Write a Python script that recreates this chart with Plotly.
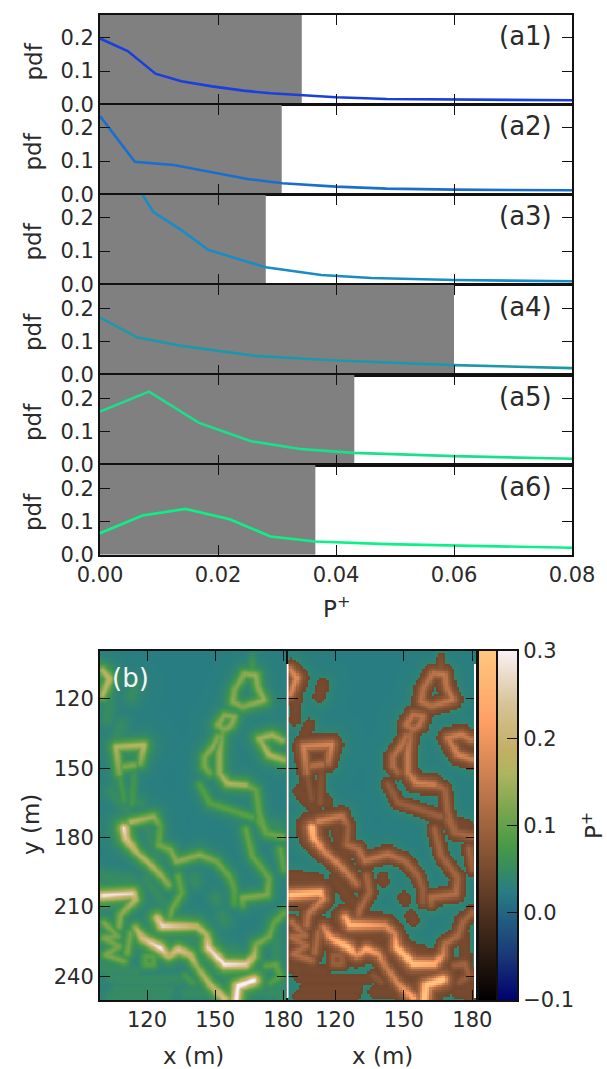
import numpy as np
import plotly.graph_objects as go

# ---------- panel (a) data ----------
labels = ["(a1)", "(a2)", "(a3)", "(a4)", "(a5)", "(a6)"]
colors = ["#1a3fdc", "#1a6ecd", "#1a8cc4", "#1f97ab", "#18e08c", "#0cf088"]
thresholds = [0.0342, 0.0308, 0.0281, 0.0600, 0.0431, 0.0365]
a1_x = [0, .0047, .0094, .0138, .019, .0243, .0289, .0342, .04, .0486, .06, .08]
a1_y = [.198, .16, .092, .069, .054, .041, .033, .028, .021, .016, .014, .012]
a2_x = [0, .0059, .0125, .019, .025, .0309, .04, .0486, .06, .08]
a2_y = [.235, .098, .088, .067, .046, .033, .023, .017, .014, .012]
a3_x = [.0065, .009, .0138, .0184, .0281, .0375, .046, .06, .08]
a3_y = [.29, .218, .163, .103, .051, .028, .019, .013, .009]
a4_x = [0, .0064, .0138, .0263, .04, .06, .08]
a4_y = [.172, .112, .087, .057, .043, .029, .02]
a5_x = [0, .0083, .0168, .0256, .0342, .043, .06, .08]
a5_y = [.16, .22, .126, .071, .047, .036, .026, .018]
a6_x = [0, .0072, .0145, .022, .0289, .0365, .0486, .08]
a6_y = [.065, .118, .138, .107, .055, .04, .032, .021]
xs = [a1_x, a2_x, a3_x, a4_x, a5_x, a6_x]
ys = [a1_y, a2_y, a3_y, a4_y, a5_y, a6_y]

# ---------- panel (b) data: ridge lines (x m, y m, P+) ----------
BACKGROUND = 0.024
CUT = 0.04
ridges = [
    [(100.3, 107.5, .14), (103.2, 111, .16), (100.3, 118.2, .14)],
    [(166.2, 101.5, .03), (166.2, 107, .05)],
    [(162.6, 108.9, .11), (167.7, 109.6, .12), (168.4, 114.6, .11), (171.3, 120.4, .12),
     (161.9, 123.3, .1), (157.5, 121.1, .11), (158.2, 116, .1), (162.6, 108.9, .11)],
    [(153.9, 126.9, .11), (158.2, 127.6, .11), (156.8, 131.2, .11), (153.9, 133.3, .1),
     (151, 131.2, .11), (153.9, 126.9, .11)],
    [(151, 136.2, .1), (148.8, 140.5, .11), (145.2, 144.9, .1), (145.2, 149.2, .1), (147.4, 152, .08)],
    [(153.2, 133.3, .08), (151.7, 143.4, .12), (151.7, 152, .12), (155.3, 156.4, .14), (163.3, 157.1, .13)],
    [(163.3, 157.1, .1), (167.7, 159.2, .08), (169.1, 169.3, .08), (172, 176.5, .08)],
    [(143, 157, .06), (147.4, 165, .07), (157, 168, .07), (166, 171, .07)],
    [(106.1, 140.5, .14), (118.4, 139.8, .15), (116.9, 147.7, .1)],
    [(106.1, 140.5, .14), (107.5, 152, .1)],
    [(109.7, 149.2, .1), (114, 148.5, .1)],
    [(107.5, 152, .05), (109.7, 163.5, .05)],
    [(114, 152, .04), (113.3, 165, .05)],
    [(169.1, 137, .13), (174.9, 135.5, .13), (179.3, 137.7, .12)],
    [(169.1, 137, .12), (173.5, 144.1, .14), (180, 146.3, .13)],
    [(112.6, 173, .14), (122.7, 170.8, .12), (125.6, 175, .07), (124.9, 183, .08)],
    [(109.7, 175.8, .27), (110.4, 180.1, .22), (115.5, 186.6, .14), (120.6, 190.9, .14),
     (126.4, 196.7, .12), (129.3, 200.3, .1)],
    [(124.9, 183, .09), (130, 185.1, .1), (132.9, 190.2, .11), (143, 187.3, .11),
     (150.3, 190.2, .09), (156.1, 196.7, .08), (158.2, 202.4, .07), (158.2, 208.2, .06)],
    [(133.6, 196.7, .08), (135, 203.9, .08), (130.7, 211, .09), (130, 213.9, .08)],
    [(124.2, 214.6, .2), (126.4, 218, .26), (141.6, 218.2, .17), (145.9, 221.8, .14),
     (146.7, 227.6, .25), (153.9, 234.8, .28), (163.3, 234.8, .24), (166.9, 231.2, .15),
     (167.7, 226.2, .1), (173.5, 222.6, .09), (175.6, 216.8, .08), (180, 212.5, .08)],
    [(100.3, 205, .28), (113.3, 204.1, .25), (114.8, 206.7, .15), (111.1, 210.3, .12),
     (108.2, 213.2, .11), (107.5, 218.2, .1)],
    [(114.8, 219, .13), (117.7, 223.3, .2), (125.6, 227.6, .28), (129.3, 231.2, .16),
     (133.6, 228.3, .22), (138.7, 230.5, .17), (141.6, 235.5, .12), (147.4, 243.4, .15),
     (153.9, 249.6, .22)],
    [(159, 249.9, .3), (159.7, 244.1, .3), (166.9, 241.6, .3)],
    [(172, 235.5, .07), (176.4, 234.8, .08), (178.5, 239.8, .07), (174.2, 242.7, .06)],
    [(161.9, 208.9, .07), (161.9, 206, .1), (172.7, 204.6, .1), (173.5, 197.4, .08),
     (166.2, 188, .08), (163.3, 176.5, .08)],
    [(169.1, 172.2, .08), (172, 178, .08), (179.3, 179.4, .09)],
    [(178.5, 185, .08), (180, 193.8, .07)],
    [(101, 216.8, .1), (106.8, 222.6, .09), (101, 223.3, .1), (107.5, 226.9, .09),
     (101.7, 230.5, .1), (109.7, 233.4, .09)],
    [(112.6, 221.1, .09), (111.1, 229.8, .09)],
    [(119.1, 231.2, .07), (122.7, 231.2, .07), (122.7, 234.8, .07), (119.1, 234.8, .07), (119.1, 231.2, .07)],
    [(136.5, 239.8, .05), (140.1, 242.7, .05)],
]
# faint patches that only just pass the cut
patches = [
    [(100.7, 196.7), (112.3, 198.1)], [(119.5, 198), (128.2, 209.6)], [(126.8, 222), (142.7, 224)],
    [(106.5, 241.3), (134, 241.3)], [(106.5, 245.6), (129.7, 245.6)], [(104, 249), (128, 249)],
    [(140.6, 197.4), (141, 199)], [(152.9, 213.9), (154, 216)], [(150, 206), (150.5, 207)],
    [(153, 228.3), (158, 229)], [(173, 247), (178, 247)], [(108.7, 131.2), (106.5, 136.2)],
    [(114.5, 113.9), (113, 119)], [(103.6, 110.3), (102.2, 129)], [(106.5, 156.4), (116.6, 165)],
    [(104, 160), (113, 170)], [(120, 175), (126, 195)], [(137, 247), (150, 247)], [(100, 236), (115, 238)],
    [(100, 225), (104, 240)], [(160, 170), (178, 175)], [(175, 215), (179, 250)],
]
x_tick_vals = [120, 150, 180]
y_tick_vals = [120, 150, 180, 210, 240]
x_range = [99.3, 181.6]
y_range = [250.3, 99.3]
bar_ticks = [-.1, 0, .1, .2, .3]
bar_labels = ["\u22120.1", "0.0", "0.1", "0.2", "0.3"]

grid_x = np.arange(99.5, 182, 1.0)
grid_y = np.arange(99.5, 251, 1.0)
GX, GY = np.meshgrid(grid_x, grid_y)


def add_line(field, points, width):
    for (x0, y0, v0), (x1, y1, v1) in zip(points[:-1], points[1:]):
        dx, dy = x1 - x0, y1 - y0
        t = np.clip(((GX - x0) * dx + (GY - y0) * dy) / max(dx * dx + dy * dy, 1e-6), 0, 1)
        d2 = (GX - x0 - t * dx) ** 2 + (GY - y0 - t * dy) ** 2
        v = v0 + t * (v1 - v0)
        np.maximum(field, v / (1 + d2 / width ** 2), out=field)


extra = np.zeros_like(GX)
for r in ridges:
    add_line(extra, r, 1.8)
for p in patches:
    add_line(extra, [(p[0][0], p[0][1], .026), (p[1][0], p[1][1], .026)], 3.5)
z = BACKGROUND + extra
z_cut = np.where(z >= CUT, z, np.nan)

earth = [[0, "rgb(0,0,110)"], [.125, "rgb(25,55,120)"], [.25, "rgb(35,100,130)"], [.3125, "rgb(40,125,130)"],
         [.4, "rgb(60,145,85)"], [.45, "rgb(75,155,70)"], [.55, "rgb(125,165,80)"], [.65, "rgb(175,180,95)"],
         [.72, "rgb(195,175,100)"], [.85, "rgb(215,195,150)"], [1, "rgb(250,240,245)"]]
copper = [[0, "rgb(0,0,0)"], [.8, "rgb(255,159,101)"], [1, "rgb(255,199,127)"]]

W, H = 607, 1069
FONT = "DejaVu Sans"
TXT = "#2a2a2a"
TICK = 21
LAB = 23
fig = go.Figure()
layout = dict(width=W, height=H, margin=dict(l=0, r=0, t=0, b=0, autoexpand=False), paper_bgcolor="white",
              plot_bgcolor="white", showlegend=False, font=dict(family=FONT, size=TICK, color=TXT))
tops = [14.5, 104.5, 194.5, 285, 375, 465]
PH = 89.8
L, R = 100, 572
annots = []
shapes = []
common = dict(ticks="inside", ticklen=10, tickcolor="#111", showgrid=False, zeroline=False, showline=True,
              linecolor="#111", linewidth=2, mirror="allticks", layer="above traces")


def title_note(text, x, y, angle=0):
    annots.append(dict(text=text, xref="paper", yref="paper", x=x / W, y=1 - y / H, textangle=angle,
                       xanchor="center", yanchor="middle", showarrow=False, font=dict(size=LAB, color=TXT)))


for i in range(6):
    n = "" if i == 0 else str(i + 1)
    xa, ya = "xaxis" + n, "yaxis" + n
    layout[xa] = dict(domain=[L / W, R / W], range=[0, .08], tickvals=[0, .02, .04, .06, .08],
                      ticktext=["0.00", "0.02", "0.04", "0.06", "0.08"], showticklabels=i == 5,
                      anchor="y" + n, **common)
    layout[ya] = dict(domain=[1 - (tops[i] + PH) / H, 1 - tops[i] / H], range=[0, .27], tickvals=[0, .1, .2],
                      ticktext=["0.0", "0.1", "0.2"], anchor="x" + n, **common)
    title_note("pdf", 33, tops[i] + 47, -90)
    shapes.append(dict(type="rect", xref="x" + n, yref="y" + n, x0=0, x1=thresholds[i], y0=0, y1=.27,
                       fillcolor="#808080", line_width=0, layer="below"))
    fig.add_trace(go.Scatter(x=xs[i], y=ys[i], mode="lines", line=dict(color=colors[i], width=2.6),
                             xaxis="x" + n, yaxis="y" + n, hoverinfo="skip"))
    annots.append(dict(text=labels[i], xref="x" + n, yref="y" + n, x=.0722, y=.205, xanchor="center",
                       yanchor="middle", showarrow=False, font=dict(size=26, color=TXT)))
title_note("P<sup>+</sup>", 336, 607)

MT, MB = 651, 1000
P1 = (100, 287)
P2 = (288, 476)
for idx, (px, n) in enumerate([(P1, "7"), (P2, "8")]):
    layout["xaxis" + n] = dict(domain=[px[0] / W, px[1] / W], range=x_range, tickvals=x_tick_vals, anchor="y" + n,
                               **common)
    layout["yaxis" + n] = dict(domain=[1 - MB / H, 1 - MT / H], range=y_range, tickvals=y_tick_vals,
                               showticklabels=idx == 0, anchor="x" + n, **common)
title_note("x (m)", 194, 1056)
title_note("x (m)", 382, 1056)
title_note("y (m)", 31, 825, -90)

# colour bars: two narrow strips on their own axes
bar_vals = np.linspace(-.1, .3, 161)
for n, px in [("9", (479, 497)), ("10", (498, 517))]:
    layout["xaxis" + n] = dict(domain=[px[0] / W, px[1] / W], range=[0, 1], showticklabels=False, ticks="",
                               showgrid=False, zeroline=False, showline=True, linecolor="#111", linewidth=2,
                               mirror=True, anchor="y" + n, layer="above traces")
layout["yaxis9"] = dict(domain=[1 - MB / H, 1 - MT / H], range=[-.1, .3], showticklabels=False, ticks="",
                        showgrid=False, zeroline=False, showline=True, linecolor="#111", linewidth=2, mirror=True,
                        anchor="x9", layer="above traces")
layout["yaxis10"] = dict(domain=[1 - MB / H, 1 - MT / H], range=[-.1, .3], side="right", tickvals=bar_ticks,
                         ticktext=bar_labels, ticks="inside", ticklen=10, tickcolor="#111", showgrid=False,
                         zeroline=False, showline=True, linecolor="#111", linewidth=2, mirror=True, anchor="x10",
                         layer="above traces")

hm = dict(x=grid_x, y=grid_y, zmin=-.1, zmax=.3, hoverinfo="skip", showscale=False)
fig.add_trace(go.Heatmap(z=z, colorscale=earth, zsmooth="best", xaxis="x7", yaxis="y7", **hm))
fig.add_trace(go.Heatmap(z=z, colorscale=earth, zsmooth="best", xaxis="x8", yaxis="y8", **hm))
fig.add_trace(go.Heatmap(z=z_cut, colorscale=copper, xaxis="x8", yaxis="y8", **hm))
for n, scale in [("9", copper), ("10", earth)]:
    fig.add_trace(go.Heatmap(x=[0, 1], y=bar_vals, z=[[v, v] for v in bar_vals], colorscale=scale, zmin=-.1, zmax=.3,
                             zsmooth="best", showscale=False, xaxis="x" + n, yaxis="y" + n, hoverinfo="skip"))

annots.append(dict(text="(b)", xref="x7", yref="y7", x=103.5, y=111, xanchor="left", yanchor="middle",
                   showarrow=False, font=dict(size=26, color="#f4f4f4")))
title_note("P<sup>+</sup>", 592, 826, -90)
for sx in [287.5, 475.0]:
    shapes.append(dict(type="line", xref="paper", yref="paper", x0=sx / W, x1=sx / W, y0=1 - 998 / H, y1=1 - 664 / H,
                       line=dict(color="white", width=2)))
layout["annotations"] = annots
layout["shapes"] = shapes
fig.update_layout(**layout)
fig.write_html("out.html", config=dict(displayModeBar=False), post_script="document.body.style.margin='0';")
